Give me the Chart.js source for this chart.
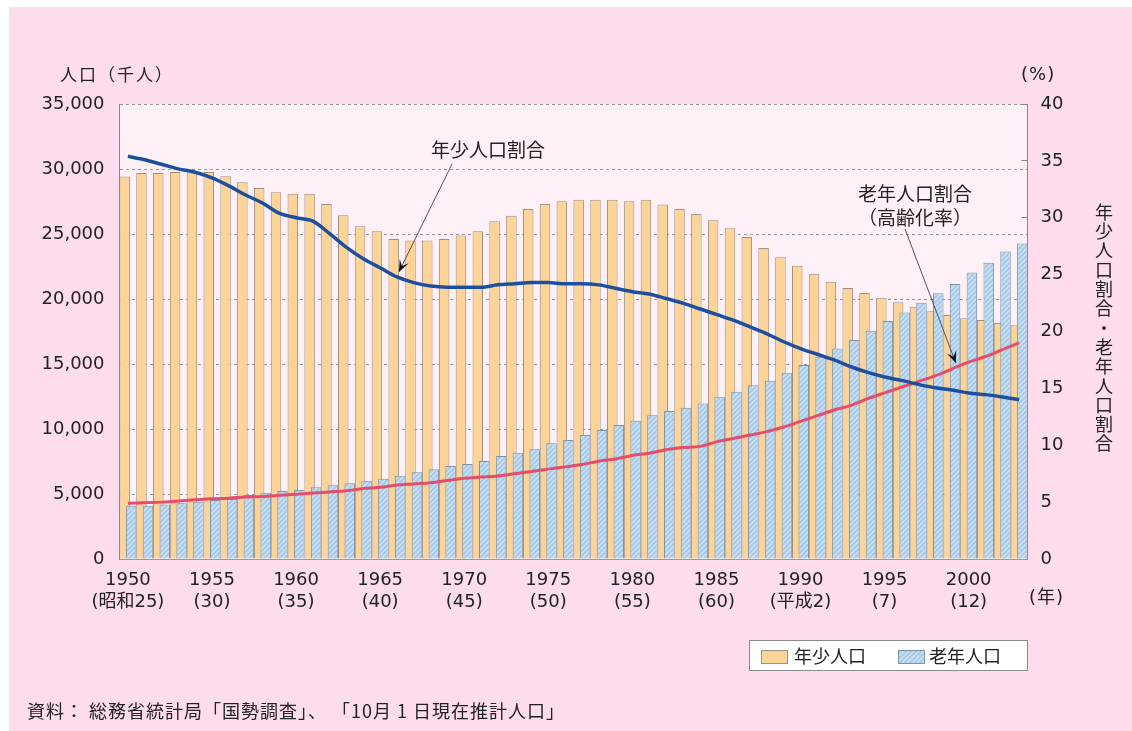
<!DOCTYPE html>
<html lang="ja">
<head>
<meta charset="utf-8">
<title>年少人口・老年人口の推移</title>
<script src="https://cdn.jsdelivr.net/npm/chart.js@4.4.1/dist/chart.umd.min.js"></script>
<style>
  html, body { margin: 0; padding: 0; background: #fff; }
  canvas { display: block; }
</style>
</head>
<body>
<canvas id="popChart" width="1132" height="731"></canvas>
<script>
// categories
const years = [
  1950, 1951, 1952, 1953, 1954, 1955, 1956, 1957, 1958, 1959,
  1960, 1961, 1962, 1963, 1964, 1965, 1966, 1967, 1968, 1969,
  1970, 1971, 1972, 1973, 1974, 1975, 1976, 1977, 1978, 1979,
  1980, 1981, 1982, 1983, 1984, 1985, 1986, 1987, 1988, 1989,
  1990, 1991, 1992, 1993, 1994, 1995, 1996, 1997, 1998, 1999,
  2000, 2001, 2002, 2003
]
const tickYears = [1950, 1955, 1960, 1965, 1970, 1975, 1980, 1985, 1990, 1995, 2000]
const tickEras = ['(昭和25)', '(30)', '(35)', '(40)', '(45)', '(50)', '(55)', '(60)', '(平成2)', '(7)', '(12)']

// 年少人口 (千人)
const youthPop = [
  29430, 29690, 29690, 29770, 29740, 29770, 29440, 28980, 28540, 28210,
  28100, 28100, 27310, 26440, 25600, 25210, 24620, 24500, 24500, 24620,
  24880, 25210, 25980, 26410, 26920, 27310, 27510, 27640, 27640, 27640,
  27510, 27640, 27260, 26920, 26540, 26050, 25440, 24770, 23920, 23210,
  22560, 21950, 21330, 20850, 20460, 20100, 19750, 19400, 19050, 18770,
  18510, 18380, 18150, 17990
]
// 老年人口 (千人)
const elderPop = [
  4100, 4100, 4200, 4280, 4410, 4540, 4620, 4920, 5100, 5230,
  5310, 5510, 5670, 5820, 6020, 6180, 6410, 6670, 6900, 7150,
  7310, 7540, 7920, 8180, 8440, 8900, 9150, 9540, 9920, 10310,
  10640, 11050, 11380, 11640, 11970, 12480, 12870, 13360, 13720, 14330,
  14920, 15560, 16200, 16850, 17560, 18310, 18970, 19720, 20440, 21150,
  22030, 22790, 23650, 24260
]
// 年少人口割合 (%)
const youthPct = [
  35.4, 35.1, 34.7, 34.3, 34.0, 33.5, 32.8, 32.0, 31.3, 30.4,
  30.0, 29.7, 28.6, 27.4, 26.4, 25.6, 24.8, 24.3, 24.0, 23.9,
  23.9, 23.9, 24.1, 24.2, 24.3, 24.3, 24.2, 24.2, 24.1, 23.8,
  23.5, 23.3, 22.9, 22.5, 22.0, 21.5, 21.0, 20.4, 19.8, 19.1,
  18.5, 18.0, 17.5, 16.9, 16.4, 16.0, 15.7, 15.35, 15.05, 14.85,
  14.6, 14.45, 14.25, 14.0
]
// 老年人口割合 (%)
const elderPct = [
  4.9, 4.95, 5.0, 5.1, 5.2, 5.3, 5.35, 5.45, 5.5, 5.6,
  5.7, 5.8, 5.9, 6.0, 6.2, 6.3, 6.5, 6.6, 6.7, 6.9,
  7.1, 7.2, 7.3, 7.5, 7.7, 7.9, 8.1, 8.3, 8.6, 8.8,
  9.1, 9.3, 9.6, 9.8, 9.9, 10.3, 10.6, 10.9, 11.2, 11.6,
  12.1, 12.6, 13.1, 13.5, 14.1, 14.6, 15.1, 15.6, 16.1, 16.7,
  17.3, 17.8, 18.4, 19.0
]

const FONT = '"Noto Sans CJK JP", "Noto Sans", sans-serif'
const NUM_FONT = '"DejaVu Sans", "Noto Sans CJK JP", sans-serif'
const TEXT = '#222'
const YOUTH_BAR = 2
const ELDER_BAR = 3

function makeHatch() {
  const c = document.createElement('canvas')
  c.width = 5
  c.height = 5
  const g = c.getContext('2d')
  g.fillStyle = '#a7cbe8'
  g.fillRect(0, 0, 5, 5)
  g.strokeStyle = '#d8e9f6'
  g.lineWidth = 1.2
  g.beginPath()
  g.moveTo(-1, 6); g.lineTo(6, -1)
  g.moveTo(-3.5, 3.5); g.lineTo(3.5, -3.5)
  g.moveTo(1.5, 8.5); g.lineTo(8.5, 1.5)
  g.stroke()
  return g.createPattern(c, 'repeat')
}
const hatch = makeHatch()

function arrow(ctx, x1, y1, x2, y2) {
  ctx.beginPath()
  ctx.moveTo(x1, y1)
  ctx.lineTo(x2, y2)
  ctx.stroke()
  const a = Math.atan2(y2 - y1, x2 - x1)
  const len = 12, w = 5
  ctx.beginPath()
  ctx.moveTo(x2, y2)
  ctx.lineTo(x2 - len * Math.cos(a) + w * Math.sin(a), y2 - len * Math.sin(a) - w * Math.cos(a))
  ctx.lineTo(x2 - len * 0.55 * Math.cos(a), y2 - len * 0.55 * Math.sin(a))
  ctx.lineTo(x2 - len * Math.cos(a) - w * Math.sin(a), y2 - len * Math.sin(a) + w * Math.cos(a))
  ctx.closePath()
  ctx.fill()
}

const decor = {
  id: 'decor',
  beforeDraw(chart) {
    const { ctx, chartArea: a } = chart
    ctx.save()
    ctx.fillStyle = '#ffffff'
    ctx.fillRect(0, 0, chart.width, chart.height)
    ctx.fillStyle = '#fcdced'
    ctx.fillRect(9, 7, chart.width - 9, chart.height - 7)
    ctx.fillStyle = '#fdf0f7'
    ctx.fillRect(a.left, a.top, a.right - a.left, a.bottom - a.top)
    ctx.restore()
  },
  // elderly bars sit right of the youth bars but are painted over them
  beforeDatasetDraw(chart, args) {
    if (args.index === ELDER_BAR) return false
  },
  afterDatasetDraw(chart, args) {
    if (args.index === YOUTH_BAR) chart.getDatasetMeta(ELDER_BAR).controller.draw()
  },
  afterDraw(chart) {
    const { ctx, scales } = chart
    const x = scales.x, y1 = scales.y1
    ctx.save()
    ctx.fillStyle = TEXT
    ctx.textBaseline = 'middle'

    // axis titles
    ctx.font = '17px ' + FONT
    ctx.textAlign = 'left'
    ctx.letterSpacing = '2px'
    ctx.fillText('人口（千人）', 60, 75)
    ctx.letterSpacing = '1px'
    ctx.font = '18px ' + NUM_FONT
    ctx.fillText('(%)', 1021, 75)
    ctx.fillText('(年)', 1029, 598)
    ctx.letterSpacing = '0px'

    const vTitle = '年少人口割合・老年人口割合'
    ctx.textAlign = 'center'
    ctx.font = '18px ' + FONT
    for (let i = 0; i < vTitle.length; i++) {
      ctx.fillText(vTitle[i], 1104, 212 + i * 19.3)
    }

    // annotations
    ctx.font = '19px ' + FONT
    ctx.fillText('年少人口割合', 488, 150)
    ctx.fillText('老年人口割合', 915, 194)
    ctx.fillText('（高齢化率）', 915, 218)

    ctx.strokeStyle = '#555'
    ctx.fillStyle = '#111'
    ctx.lineWidth = 1
    const iy = years.indexOf(1966)
    arrow(ctx, 452, 164, x.getPixelForValue(iy) + 2, y1.getPixelForValue(youthPct[iy]) - 5)
    const ie = years.indexOf(1999)
    arrow(ctx, 905, 229, x.getPixelForValue(ie) + 4, y1.getPixelForValue(elderPct[ie]) - 6)

    // legend
    ctx.fillStyle = '#ffffff'
    ctx.fillRect(749.5, 640.5, 278, 30)
    ctx.strokeStyle = '#8a8a8a'
    ctx.strokeRect(749.5, 640.5, 278, 30)
    const items = [[YOUTH_BAR, 761, 794], [ELDER_BAR, 898, 929]]
    ctx.font = '18px ' + FONT
    ctx.textAlign = 'left'
    items.forEach(([di, sx, tx]) => {
      const ds = chart.data.datasets[di]
      ctx.fillStyle = ds.backgroundColor
      ctx.fillRect(sx + 0.5, 650.5, 26, 13)
      ctx.strokeStyle = ds.borderColor
      ctx.strokeRect(sx + 0.5, 650.5, 26, 13)
      ctx.fillStyle = TEXT
      ctx.fillText(ds.label, tx, 656)
    })

    // source
    ctx.font = '18px ' + FONT
    ctx.letterSpacing = '1px'
    ctx.fillText('資料： 総務省統計局「国勢調査」、 「10月 1 日現在推計人口」', 27, 711)
    ctx.restore()
  }
}

Chart.defaults.font.family = NUM_FONT
Chart.defaults.font.size = 18
Chart.defaults.color = TEXT

new Chart(document.getElementById('popChart'), {
  type: 'bar',
  data: {
    labels: years,
    datasets: [
      {
        type: 'line', label: '年少人口割合', data: youthPct, yAxisID: 'y1',
        borderColor: '#1d4f9e', borderWidth: 3.5, pointRadius: 0,
        cubicInterpolationMode: 'monotone', order: 0
      },
      {
        type: 'line', label: '老年人口割合', data: elderPct, yAxisID: 'y1',
        borderColor: '#e44d6c', borderWidth: 3, pointRadius: 0,
        cubicInterpolationMode: 'monotone', order: 0
      },
      {
        type: 'bar', label: '年少人口', data: youthPop, yAxisID: 'y',
        backgroundColor: '#fdd497', borderColor: '#9f8f80', borderWidth: 1,
        categoryPercentage: 0.773, barPercentage: 1.615, order: 1
      },
      {
        type: 'bar', label: '老年人口', data: elderPop, yAxisID: 'y',
        backgroundColor: hatch, borderColor: '#7f91a4', borderWidth: 1,
        categoryPercentage: 0.773, barPercentage: 1.615, order: 2
      }
    ]
  },
  options: {
    responsive: false,
    animation: false,
    devicePixelRatio: 1,
    layout: { padding: { top: 104, bottom: 92, left: 0, right: 0 } },
    plugins: {
      legend: { display: false },
      tooltip: { enabled: false }
    },
    scales: {
      x: {
        type: 'category',
        offset: true,
        grid: { display: false },
        border: { display: true, color: '#999' },
        ticks: {
          autoSkip: false,
          maxRotation: 0,
          padding: 3,
          font: { size: 18 },
          callback(value, index) {
            const k = tickYears.indexOf(years[index])
            return k < 0 ? '' : [String(years[index]), tickEras[k]]
          }
        },
        afterFit(s) { s.height = 80 }
      },
      y: {
        position: 'left',
        min: 0,
        max: 35000,
        grid: { color: '#999', lineWidth: 1, drawTicks: false },
        border: { display: true, color: '#888', dash: [3, 3] },
        ticks: {
          stepSize: 5000,
          padding: 15,
          callback: v => v.toLocaleString('en-US')
        },
        afterFit(s) { s.width = 119.5 }
      },
      y1: {
        position: 'right',
        min: 0,
        max: 40,
        grid: { drawOnChartArea: false, drawTicks: true, tickLength: -6, color: '#888' },
        border: { display: true, color: '#888' },
        ticks: { stepSize: 5, padding: 19 },
        afterFit(s) { s.width = 104.5 }
      }
    }
  },
  plugins: [decor]
})
</script>
</body>
</html>
